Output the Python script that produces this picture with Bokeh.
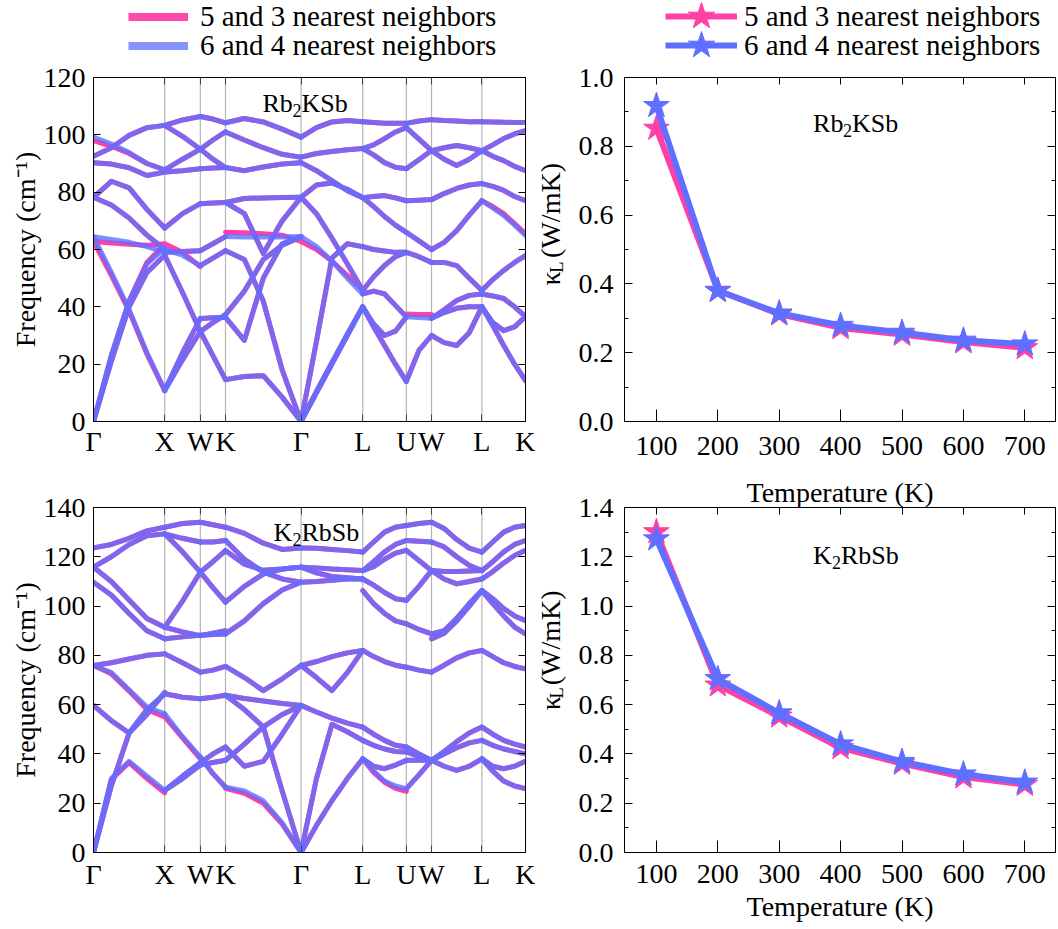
import numpy as np
from bokeh.plotting import figure
from bokeh.layouts import row, column
from bokeh.models import (Range1d, LinearAxis, FixedTicker, SingleIntervalTicker,
                          Span, Label, Legend, LegendItem, NumeralTickFormatter, Title)
from bokeh.embed import file_html
from bokeh.resources import INLINE

FONT = "Liberation Serif"
PINK = "#ff40a6"
BLUE = "#5f6fff"

K_LABELS = ["Γ", "X", "W", "K", "Γ", "L", "U", "W", "L", "K"]
K_POS = [0.0, 1.0, 1.5, 1.8536, 2.9142, 3.7802, 4.3926, 4.7462, 5.4533, 6.0657]

TEMPS = [100, 200, 300, 400, 500, 600, 700]
RB_KAPPA_53 = [0.852, 0.381, 0.312, 0.272, 0.253, 0.231, 0.214]
RB_KAPPA_64 = [0.918, 0.380, 0.315, 0.279, 0.259, 0.236, 0.225]
KR_KAPPA_53 = [1.301, 0.679, 0.553, 0.425, 0.361, 0.306, 0.276]
KR_KAPPA_64 = [1.272, 0.705, 0.566, 0.440, 0.369, 0.318, 0.285]

# ---------- Rb2KSb branches (6 and 4 neighbours), values at evenly spaced points of each segment ----------
RB_GX = [[0, 21, 40, 52, 58], [0, 23, 42, 55, 60.5], [64.5, 52, 39, 24, 10.8],
         [64.5, 63.5, 62.5, 61, 59], [78.2, 83.8, 81.5, 74, 67.5], [78.2, 75.5, 71, 65, 60],
         [92.5, 95.5, 99.8, 102.5, 103.3], [99.2, 96.8, 93.8, 90, 87.8], [90.3, 89.8, 88.5, 85.8, 87]]
RB_XW = [[103.3, 105.2, 106.4], [103.3, 99.5, 95], [87.8, 91.5, 95], [87, 87.5, 88.2],
         [67.5, 72.5, 76], [60, 58, 54.4], [59, 59.3, 59.6], [58, 45, 31.4],
         [10.8, 21.5, 31.4], [10.8, 24, 35.9]]
RB_WK = [[106.4, 105.5, 104.2], [95, 98.2, 101], [95, 91.5, 88.6], [88.2, 88.4, 88.6],
         [76, 76.2, 76.4], [54.4, 57, 59.6], [59.6, 62, 64.5], [31.4, 23, 14.6],
         [31.4, 34.5, 37.3], [35.9, 36.2, 36.3]]
RB_KG = [[104.2, 105.7, 104.5, 102, 99.2], [101, 98.2, 95.5, 93.2, 92.2], [88.6, 87.5, 88.8, 89.8, 90.3],
         [76.4, 77.8, 78, 78.1, 78.2], [76.4, 72.5, 58.6, 70, 78.2], [64.5, 64.4, 64.4, 64.4, 64.5],
         [37.3, 45.5, 56.5, 61.5, 64.5], [36.3, 28.3, 50, 62, 64.5], [14.6, 15.7, 16, 8.5, 0],
         [59.6, 56.5, 42, 18, 0]]
RB_GL = [[99.2, 102.5, 104.5, 105, 104.6], [92.2, 93.5, 94.2, 94.8, 95.2], [90.3, 87.5, 84, 80.5, 78.1],
         [78.2, 82.5, 83.2, 81, 78.1], [78.2, 72.5, 64, 55, 45.7], [64.5, 61, 56, 50, 44.5],
         [0, 28, 57, 62, 61], [0, 10, 20, 30, 40], [0, 10.5, 20.5, 30.5, 40]]
RB_LU = [[104.6, 104.3, 104, 104, 104], [95.2, 96.5, 98.7, 101, 102.5], [95.2, 93, 90.3, 88.7, 88.2],
         [78.1, 78.5, 78.8, 78, 77], [78.1, 75, 71.5, 68.5, 66], [61, 60, 59.5, 59, 59],
         [45.7, 50.5, 54.4, 57.5, 59], [44.5, 45.5, 44.5, 40.5, 36.5], [40, 34, 30, 31.5, 36.5],
         [40, 33, 26.5, 20, 14]]
RB_UW = [[104, 104.8, 105.3], [102.5, 98.5, 94.5], [88.2, 91.3, 94.5], [77, 77.2, 77.4],
         [66, 63, 60], [59, 57.5, 55.5], [36.5, 36.3, 36], [14, 24.8, 30]]
RB_WL = [[105.3, 105, 104.8, 104.6, 104.6], [94.5, 95.5, 96.3, 95.5, 94.5], [94.5, 91.5, 89.3, 91.5, 94.5],
         [77.4, 79.5, 81.3, 82.5, 83], [60, 62.5, 66.6, 72, 77], [55.5, 55.5, 54.4, 50, 45.7],
         [36, 39, 42.2, 44, 44.5], [30, 27.5, 26.5, 31, 40], [36, 38, 39.5, 40, 40]]
RB_LK = [[104.6, 104.5, 104.4, 104.3, 104.3], [94.5, 96.5, 98.7, 100.3, 101.5], [94.5, 92.5, 91, 89, 87.5],
         [83, 82, 80.6, 78.5, 77], [77, 74.5, 71.9, 68.5, 64.9], [45.7, 49.5, 52.7, 55.5, 57.9],
         [44.5, 43.8, 42.9, 40, 36.6], [40, 33.5, 26.5, 20, 14.3], [40, 34.5, 31.7, 33, 36.6]]

# branches of the 5 and 3 neighbour run that differ visibly from the 6 and 4 run
RB_P_GX_LA = [0, 23, 42, 55.5, 61.8]
RB_P_GX_OPT = [62.8, 51, 38.5, 23.5, 10.8]
RB_P_GX_FLAT = [62.8, 62.3, 61.8, 61.5, 62]
RB_P_GX_TOP = [98, 96, 93.5, 90, 87.8]
RB_P_XW_DIP = [62, 59, 54]
RB_P_KG_FLAT = [66, 65.8, 65.5, 65, 62.8]
RB_P_GL_DOWN = [62.8, 60, 56, 51, 46.2]
RB_P_UW_MID = [37.5, 37.3, 37.3]
RB_P_LK_DOWN = [77, 75, 72.5, 69, 65.5]

# ---------- K2RbSb branches ----------
KR_GX = [[123.6, 125, 127.5, 130.5, 132], [115.8, 120, 125, 128.5, 129.3], [115.8, 110, 102.5, 95, 91.4],
         [109.7, 104.5, 97, 90, 86.7], [75.9, 77, 78.5, 80, 80.6], [75.9, 73, 66, 59, 56.3],
         [59.7, 53.5, 48.5, 56, 65], [0, 27, 48.5, 58, 64.4], [0, 30, 37, 31, 25.2]]
KR_XW = [[132, 133.5, 134], [129.3, 127.5, 126], [129.3, 122, 113.8], [91.4, 102, 113.8],
         [86.7, 87.5, 88.2], [91.4, 89.5, 88], [80.6, 77, 73.2], [64.4, 63, 62.4],
         [56.3, 47, 38.7], [25.2, 31, 36.4], [25.2, 30, 35.5]]
KR_WK = [[134, 133, 132], [126, 126, 126.6], [113.8, 118, 122.5], [113.8, 107.5, 101.6],
         [88.2, 88.5, 88.7], [88, 89, 90], [73.2, 74, 75.5], [62.4, 63, 63.8],
         [38.7, 32, 26.5], [36.4, 40, 42.8], [35.5, 36.5, 37.4]]
KR_KG = [[132, 129.5, 125.5, 123, 123.6], [126.6, 119, 113.8, 111, 109.7], [122.5, 117, 114.5, 115, 115.8],
         [101.6, 108, 113, 115, 115.8], [88.7, 94, 101, 106.5, 109.7], [75.5, 71, 65.7, 70.5, 75.9],
         [63.8, 62.5, 61.5, 60.5, 59.7], [42.8, 35, 37, 48, 59.7], [37.4, 44, 51, 56, 59.7],
         [26.5, 25, 21, 12, 0], [63.8, 58, 51, 25, 0]]
KR_GL = [[123.6, 123.5, 123, 122.5, 121.9], [115.8, 115.5, 115, 114.7, 114.4], [115.8, 113.5, 112, 111.5, 111],
         [109.7, 110, 110.5, 111, 111], [75.9, 71, 65.7, 73, 82], [75.9, 77.5, 79.5, 81, 82],
         [59.7, 57, 54.5, 52.5, 50.9], [0, 30, 52, 49, 45.5], [0, 11, 21, 30, 38]]
KR_LU = [[121.9, 126, 130, 132, 132.7], [114.4, 118, 122, 125, 126.6], [114.4, 116, 119, 121.5, 122.6],
         [111, 108.5, 105.5, 103, 102.3], [106.3, 101, 97, 94, 92.8], [82, 79.5, 77.5, 76, 75.2],
         [50.9, 48, 45.5, 43.5, 42.8], [45.5, 43.5, 42, 41, 40.8], [38, 35, 34, 35.5, 37.4],
         [38, 33, 29, 27, 25.9]]
KR_UW = [[132.7, 133.5, 134], [126.6, 126.3, 126], [122.6, 118.5, 114.4], [102.3, 108, 114.4],
         [92.8, 90.5, 88.7], [75.2, 74, 73.2], [42.8, 40, 37.4], [40.8, 39, 37.4],
         [37.4, 37.4, 37.4], [25.9, 31.5, 37.4]]
KR_WL = [[134, 131.5, 127, 123.5, 121.9], [126, 124, 120, 116.5, 114.4], [114.4, 114, 114, 114.2, 114.4],
         [114.4, 111, 109, 110, 111], [88.7, 90, 95, 101, 106.3], [86.7, 89, 94, 100, 106.3],
         [73.2, 76, 79, 81, 82], [37.4, 40, 42.5, 44.5, 45.5], [37.4, 35, 33.3, 35, 38],
         [37.4, 41, 45, 48.5, 50.9]]
KR_LK = [[121.9, 126, 130, 132, 132.7], [114.4, 118, 122, 125, 126.6], [111, 114, 117.5, 120.5, 122.6],
         [106.3, 103, 99, 96, 94.1], [106.3, 101, 96, 91.5, 88.7], [82, 79.5, 77, 75.5, 74.5],
         [50.9, 48, 45.5, 44, 42.8], [45.5, 43.5, 42, 41, 40], [38, 33, 29, 27, 25.9],
         [38, 35, 34, 35, 37]]

KR_P_GX_DOWN = [75.9, 72.5, 65.5, 58, 55]
KR_P_GX_TA = [0, 29.5, 36.5, 30, 24.2]
KR_P_XW_DOWN = [55, 46.5, 38]
KR_P_KG_TA = [26, 24, 20, 11.5, 0]
KR_P_LU_V = [38, 32.5, 28.5, 26, 24.8]

RB_BLUE = [RB_GX, RB_XW, RB_WK, RB_KG, RB_GL, RB_LU, RB_UW, RB_WL, RB_LK]
KR_BLUE = [KR_GX, KR_XW, KR_WK, KR_KG, KR_GL, KR_LU, KR_UW, KR_WL, KR_LK]

RB_PINK = [list(s) for s in RB_BLUE]
RB_PINK[0][1] = RB_P_GX_LA
RB_PINK[0][2] = RB_P_GX_OPT
RB_PINK[0][3] = RB_P_GX_FLAT
RB_PINK[0][7] = RB_P_GX_TOP
RB_PINK[1][5] = RB_P_XW_DIP
RB_PINK[3][5] = RB_P_KG_FLAT
RB_PINK[4][5] = RB_P_GL_DOWN
RB_PINK[6][6] = RB_P_UW_MID
RB_PINK[8][4] = RB_P_LK_DOWN

KR_PINK = [list(s) for s in KR_BLUE]
KR_PINK[0][5] = KR_P_GX_DOWN
KR_PINK[0][8] = KR_P_GX_TA
KR_PINK[1][8] = KR_P_XW_DOWN
KR_PINK[3][9] = KR_P_KG_TA
KR_PINK[5][9] = KR_P_LU_V

# ---------------- layout constants (page pixels) ----------------
HDR_H = 61
ROW1_TOP, ROW1_H = 61, 410
ROW2_TOP, ROW2_H = 471, 458
DISP_W, STRIP_K_W, KAP_W = 535, 40, 483
NAN = [float("nan")]


def px2data(frame, xr, yr, px, py):
    fl, fr, ft, fb = frame
    x = xr[0] + (px - fl) / (fr - fl) * (xr[1] - xr[0])
    y = yr[0] + (fb - py) / (fb - ft) * (yr[1] - yr[0])
    return x, y


def style_axis(ax, tick_in, standoff, minor_in=0):
    ax.major_label_text_font = FONT
    ax.major_label_text_font_size = "28px"
    ax.major_label_text_color = "black"
    ax.axis_line_color = "black"
    ax.major_tick_line_color = "black"
    ax.minor_tick_line_color = "black"
    ax.major_tick_in = tick_in
    ax.major_tick_out = 0
    ax.minor_tick_in = minor_in
    ax.minor_tick_out = 0
    ax.major_label_standoff = standoff
    ax.axis_label_text_font = FONT
    ax.axis_label_text_font_size = "28px"
    ax.axis_label_text_font_style = "normal"
    ax.axis_label_text_color = "black"


def hide_labels(ax):
    ax.major_label_text_font_size = "1px"
    ax.major_label_text_color = None
    ax.major_label_standoff = 0


def add_text(p, x, y, text, size, angle=0.0):
    p.add_layout(Label(x=x, y=y, text=text, text_font=FONT, text_font_size=size, angle=angle,
                       text_align="left", text_baseline="alphabetic", text_color="black"))


def blank_fig(width, height):
    p = figure(width=width, height=height, x_range=Range1d(0, width), y_range=Range1d(0, height),
               output_backend="svg", toolbar_location=None, title=None,
               x_axis_location=None, y_axis_location=None, min_border=0)
    p.xgrid.visible = False
    p.ygrid.visible = False
    p.outline_line_color = None
    p.background_fill_color = "white"
    p.border_fill_color = "white"
    return p


def base_fig(width, height, xr, yr, left, right, top, bottom):
    p = figure(width=width, height=height, x_range=Range1d(*xr), y_range=Range1d(*yr),
               output_backend="svg", toolbar_location=None, title=None,
               min_border_left=left, min_border_right=right,
               min_border_top=top, min_border_bottom=bottom)
    p.xgrid.visible = False
    p.ygrid.visible = False
    p.outline_line_color = "black"
    p.background_fill_color = "white"
    p.border_fill_color = "white"
    return p


def dispersion(pink_segs, blue_segs, ymax, top, height, frame, name_parts, xstand):
    xr = (0, K_POS[-1])
    yr = (0, ymax)
    p = base_fig(DISP_W, height, xr, yr, 93, 10, top, height - top - (frame[3] - frame[2]))
    for xk in K_POS[1:-1]:
        p.add_layout(Span(location=xk, dimension="height", line_color="#b4b4b4",
                          line_width=1.2, level="underlay"))
    for segs, color, alpha in ((pink_segs, PINK, 1.0), (blue_segs, BLUE, 0.8)):
        xs, ys = [], []
        for i, seg in enumerate(segs):
            for curve in seg:
                xs.append(list(np.linspace(K_POS[i], K_POS[i + 1], len(curve))))
                ys.append(list(curve))
        p.multi_line(xs, ys, line_color=color, line_alpha=alpha, line_width=5,
                     line_cap="round", line_join="round")
    xa = p.xaxis[0]
    xa.ticker = FixedTicker(ticks=K_POS)
    xa.major_label_overrides = {k: lab for k, lab in zip(K_POS, K_LABELS)}
    style_axis(xa, 7, xstand)
    xa.major_tick_line_color = "#444444"
    top_ax = LinearAxis(ticker=FixedTicker(ticks=K_POS))
    style_axis(top_ax, 7, 0)
    top_ax.major_tick_line_color = "#444444"
    hide_labels(top_ax)
    p.add_layout(top_ax, "above")
    ya = p.yaxis[0]
    ya.ticker = SingleIntervalTicker(interval=20, num_minor_ticks=0)
    style_axis(ya, 7, 8)
    ya.axis_label = "Frequency (cm⁻¹)"
    ya.axis_label_standoff = 0
    r_ax = LinearAxis(ticker=SingleIntervalTicker(interval=20, num_minor_ticks=0))
    style_axis(r_ax, 7, 0)
    hide_labels(r_ax)
    p.add_layout(r_ax, "right")
    for (px, py, txt, size) in name_parts:
        x, y = px2data(frame, xr, yr, px, py)
        add_text(p, x, y, txt, size)
    return p


def kappa_ticker(ymax):
    major = [round(v, 1) for v in np.arange(0, ymax + 1e-6, 0.2)]
    minor = [round(v, 1) for v in np.arange(0.1, ymax, 0.2)]
    return FixedTicker(ticks=major, minor_ticks=minor)


def kappa(k53, k64, ymax, top, height, frame, name_parts, xstand):
    xr = (48, 750)
    yr = (0, ymax)
    p = base_fig(KAP_W, height, xr, yr, 48, 3, top, height - top - (frame[3] - frame[2]))
    lp = p.line(TEMPS, k53, line_color=PINK, line_width=6)
    sp = p.scatter(TEMPS, k53, marker="star", size=27, fill_color=PINK, line_color=PINK)
    lb = p.line(TEMPS, k64, line_color=BLUE, line_width=6)
    sb = p.scatter(TEMPS, k64, marker="star", size=27, fill_color=BLUE, line_color=BLUE)
    xa = p.xaxis[0]
    xa.ticker = SingleIntervalTicker(interval=100, num_minor_ticks=0)
    style_axis(xa, 12, xstand)
    top_ax = LinearAxis(ticker=SingleIntervalTicker(interval=100, num_minor_ticks=0))
    style_axis(top_ax, 7, 0)
    hide_labels(top_ax)
    p.add_layout(top_ax, "above")
    ya = p.yaxis[0]
    ya.ticker = kappa_ticker(ymax)
    ya.formatter = NumeralTickFormatter(format="0.0")
    style_axis(ya, 8, 11, minor_in=4)
    r_ax = LinearAxis(ticker=kappa_ticker(ymax))
    style_axis(r_ax, 8, 0, minor_in=4)
    hide_labels(r_ax)
    p.add_layout(r_ax, "right")
    for (px, py, txt, size) in name_parts:
        x, y = px2data(frame, xr, yr, px, py)
        add_text(p, x, y, txt, size)
    return p, xa, top_ax


def kappa_strip(row_top, row_h, frame_bottom):
    s = blank_fig(STRIP_K_W, row_h)
    start = frame_bottom - 112
    for (bx, dy, txt, size) in ((550, 0, "κ", "28px"), (556, 15, "L", "19px"),
                                (550, 33, "(W/mK)", "28px")):
        add_text(s, bx - 535, row_top + row_h - (start - dy), txt, size, angle=np.pi / 2)
    return s


TL_FRAME = (93, 525, 77, 421)
BL_FRAME = (93, 525, 507, 852)
TR_FRAME = (623, 1055, 77, 421)
BR_FRAME = (623, 1055, 507, 852)

p_tl = dispersion(RB_PINK, RB_BLUE, 120, 16, ROW1_H, TL_FRAME,
                  [(262, 103, "Rb", "26px"), (292, 110, "2", "18px"), (301, 103, "KSb", "26px")], 4)
p_bl = dispersion(KR_PINK, KR_BLUE, 140, 36, ROW2_H, BL_FRAME,
                  [(273, 532, "K", "26px"), (292, 539, "2", "18px"), (301, 532, "RbSb", "26px")], 6)
p_tr, xa_tr, top_tr = kappa(RB_KAPPA_53, RB_KAPPA_64, 1.0, 16, ROW1_H, TR_FRAME,
                            [(812, 123, "Rb", "26px"), (842, 130, "2", "18px"), (851, 123, "KSb", "26px")], 15)
p_br, xa_br, top_br = kappa(KR_KAPPA_53, KR_KAPPA_64, 1.4, 36, ROW2_H, BR_FRAME,
                            [(812, 555, "K", "26px"), (831, 562, "2", "18px"), (840, 555, "RbSb", "26px")], 12)
xa_br.axis_label = "Temperature (K)"
xa_br.axis_label_standoff = 5

# x-axis title of the upper temperature panel, drawn in the gap between the two rows
p_br.add_layout(Title(text="Temperature (K)", text_font=FONT, text_font_size="28px",
                      text_font_style="normal", text_color="black", align="center",
                      vertical_align="bottom", offset=-15, standoff=0), "above")

sk1 = kappa_strip(ROW1_TOP, ROW1_H, 421)
sk2 = kappa_strip(ROW2_TOP, ROW2_H, 852)

# ---------------- legend header ----------------
hdr = blank_fig(1058, HDR_H)
h_lp = hdr.line(NAN, NAN, line_color=PINK, line_width=8, line_alpha=0.95)
h_lb = hdr.line(NAN, NAN, line_color=BLUE, line_width=8, line_alpha=0.75)
h_kp = hdr.line(NAN, NAN, line_color=PINK, line_width=6)
h_sp = hdr.scatter(NAN, NAN, marker="star", size=27, fill_color=PINK, line_color=PINK)
h_kb = hdr.line(NAN, NAN, line_color=BLUE, line_width=6)
h_sb = hdr.scatter(NAN, NAN, marker="star", size=27, fill_color=BLUE, line_color=BLUE)


def make_legend(label, renderers, loc, gw, gh, standoff):
    return Legend(items=[LegendItem(label=label, renderers=renderers)], location=loc,
                  glyph_width=gw, glyph_height=gh, label_height=gh,
                  label_standoff=standoff, padding=0, margin=0, spacing=0,
                  border_line_color=None, background_fill_alpha=0, label_text_font=FONT,
                  label_text_font_size="29px", label_text_color="black")


# row centres at page y 16 and 45
ROW_A, ROW_B = 16, 45
hdr.add_layout(make_legend("5 and 3 nearest neighbors", [h_lp], (128, HDR_H - (ROW_A + 16.5)), 60, 33, 12))
hdr.add_layout(make_legend("6 and 4 nearest neighbors", [h_lb], (128, HDR_H - (ROW_B + 16.5)), 60, 33, 12))
hdr.add_layout(make_legend("5 and 3 nearest neighbors", [h_kp, h_sp], (665, HDR_H - (ROW_A + 35)), 72, 70, 7))
hdr.add_layout(make_legend("6 and 4 nearest neighbors", [h_kb, h_sb], (665, HDR_H - (ROW_B + 35)), 72, 70, 7))

layout = column(hdr, row(p_tl, sk1, p_tr), row(p_bl, sk2, p_br))
open("out.html", "w").write(file_html(layout, INLINE))
